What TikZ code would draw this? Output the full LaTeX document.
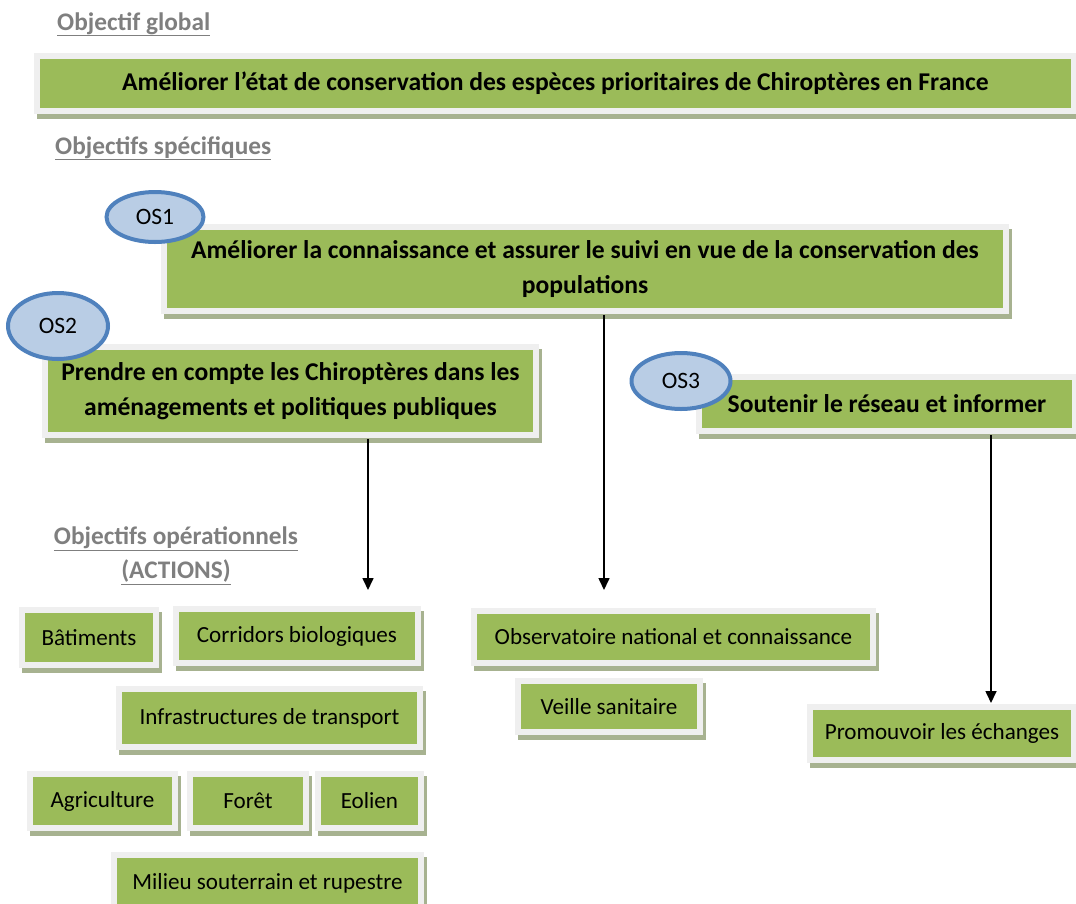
\documentclass[tikz,border=0pt]{standalone}
\usepackage{fontspec}
\setmainfont{Carlito}
\usetikzlibrary{arrows.meta,shapes.geometric}
\definecolor{boxgreen}{HTML}{9BBB59}
\definecolor{framecol}{HTML}{EFEFEF}
\definecolor{shadowcol}{HTML}{A7B290}
\definecolor{ellfill}{HTML}{B9CDE5}
\definecolor{elldraw}{HTML}{4F81BD}
\definecolor{headcol}{HTML}{7F7F7F}
\begin{document}
\begin{tikzpicture}[x=1pt,y=-1pt,
  gbox/.style={fill=boxgreen, inner sep=0pt, outer sep=7pt, align=center, text=black,
    preaction={fill=shadowcol, draw=shadowcol, line width=12pt, transform canvas={xshift=2.5pt,yshift=-4.5pt}},
    preaction={fill=framecol, draw=framecol, line width=12pt}},
  bigtxt/.style={font=\fontsize{25.6}{35.5}\selectfont\bfseries},
  smalltxt/.style={font=\fontsize{23.1}{26}\selectfont},
  ell/.style={ellipse, draw=elldraw, fill=ellfill, line width=4pt, inner sep=0pt, font=\fontsize{23.5}{26}\selectfont},
  head/.style={font=\fontsize{25.3}{34}\selectfont\bfseries, text=headcol, inner sep=0pt, align=center},
  arr/.style={-{Triangle[width=11pt,length=12pt]}, line width=1.6pt, black}]
\useasboundingbox (0,0) rectangle (1076,903);

% headers
\node[head, anchor=base west] (hglob) at (57,30) {\underline{Objectif global}};
\node[head, anchor=base west] (hspec) at (55,154) {\underline{Objectifs spécifiques}};
\node[head] (hop) at (176,556) {\underline{Objectifs opérationnels}\\\underline{(ACTIONS)}};

% main boxes
\node[gbox, bigtxt, minimum width=1031pt, minimum height=49pt] (glob) at (555.5,83.5)
  {Améliorer l’état de conservation des espèces prioritaires de Chiroptères en France};
\node[gbox, bigtxt, minimum width=836pt, minimum height=78pt] (os1) at (585,269)
  {Améliorer la connaissance et assurer le suivi en vue de la conservation des\\populations};
\node[gbox, bigtxt, minimum width=485pt, minimum height=82pt] (os2) at (290.5,391)
  {Prendre en compte les Chiroptères dans les\\aménagements et politiques publiques};
\node[gbox, bigtxt, minimum width=370pt, minimum height=48pt] (os3) at (887,404)
  {Soutenir le réseau et informer};

% ellipses
\node[ell, minimum width=97pt, minimum height=50pt] (e1) at (155,217) {OS1};
\node[ell, minimum width=100pt, minimum height=66pt] (e2) at (58,326) {OS2};
\node[ell, minimum width=99pt, minimum height=56pt] (e3) at (681,381) {OS3};

% action boxes
\node[gbox, smalltxt, minimum width=128pt, minimum height=49pt] (bat) at (89,637.5) {Bâtiments};
\node[gbox, smalltxt, minimum width=236pt, minimum height=48pt] (cor) at (297,636) {Corridors biologiques};
\node[gbox, smalltxt, minimum width=295pt, minimum height=52pt] (inf) at (269.5,718) {Infrastructures de transport};
\node[gbox, smalltxt, minimum width=139pt, minimum height=48pt] (agr) at (102.5,801) {Agriculture};
\node[gbox, smalltxt, minimum width=110pt, minimum height=48pt] (for) at (248,801) {Forêt};
\node[gbox, smalltxt, minimum width=97pt, minimum height=48pt] (eol) at (369.5,801) {Eolien};
\node[gbox, smalltxt, minimum width=301pt, minimum height=50pt] (mil) at (267.5,883) {Milieu souterrain et rupestre};
\node[gbox, smalltxt, minimum width=393pt, minimum height=46pt] (obs) at (673.5,637) {Observatoire national et connaissance};
\node[gbox, smalltxt, minimum width=176pt, minimum height=45pt] (vei) at (609,706.5) {Veille sanitaire};
\node[gbox, smalltxt, minimum width=258pt, minimum height=47pt] (pro) at (942,733.5) {Promouvoir les échanges};

% arrows
\coordinate (t2) at (368,590);
\coordinate (t1) at (604,590);
\coordinate (t3) at (991,700);
\draw[arr] (os2.south -| t2) -- (t2);
\draw[arr] (os1.south -| t1) -- (t1);
\draw[arr] (os3.south -| t3) -- (pro.north -| t3);
\end{tikzpicture}
\end{document}
